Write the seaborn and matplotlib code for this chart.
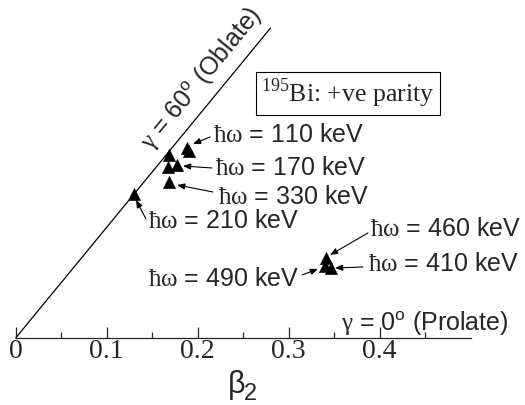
import numpy as np
import pandas as pd
import matplotlib
matplotlib.use("Agg")
import matplotlib.pyplot as plt
import seaborn as sns

sns.set_style("white")
plt.rcParams["font.family"] = ["Liberation Sans", "DejaVu Sans"]
plt.rcParams["mathtext.fontset"] = "custom"
plt.rcParams["mathtext.rm"] = "Liberation Sans"
plt.rcParams["mathtext.it"] = "Liberation Sans:italic"
plt.rcParams["mathtext.sf"] = "Liberation Sans"
# serif face for Greek symbols and the isotope mass number
plt.rcParams["mathtext.cal"] = "Liberation Serif"

# Deformation (beta2, gamma in degrees) of the positive-parity configurations
labels = ["110 keV", "110 keV", "60 deg", "170 keV", "170 keV", "330 keV",
          "210 keV", "460 keV", "490 keV", "410 keV"]
beta2 = [0.352, 0.349, 0.332, 0.316, 0.324, 0.297, 0.260, 0.363, 0.358, 0.363]
gamma = [57.7, 56.9, 59.6, 58.0, 56.9, 55.4, 60.0, 20.1, 18.4, 17.5]

# Annotation texts: label, text anchor (x, y), arrow tail, arrow tip
ann_text = ["110", "170", "330", "210", "460", "410", "490"]
ann_pos = [(0.2168, 0.3177), (0.2190, 0.2660), (0.2223, 0.2207), (0.1454, 0.1831),
           (0.3893, 0.1706), (0.3871, 0.1158), (0.1454, 0.0923)]
arrow_tail = [(0.2137, 0.3146), (0.2157, 0.2660), (0.2168, 0.2285), (0.1432, 0.1862),
              (0.3871, 0.1643), (0.3816, 0.1111), (0.3146, 0.0986)]
arrow_tip = [(0.1948, 0.3036), (0.1838, 0.2692), (0.1773, 0.2394), (0.1322, 0.2160),
             (0.3454, 0.1299), (0.3509, 0.1095), (0.3322, 0.1080)]

xticks = [0, 0.1, 0.2, 0.3, 0.4]
xtick_labels = ["0", "0.1", "0.2", "0.3", "0.4"]
minor_ticks = [0.05, 0.15, 0.25, 0.35, 0.45]
beta_max_line = 0.56

g = np.radians(gamma)
df = pd.DataFrame({"x": np.array(beta2) * np.cos(g),
                   "y": np.array(beta2) * np.sin(g)})

fig = plt.figure(figsize=(5.25, 4.05), dpi=100)
ax = fig.add_axes([0, 0, 1, 1])
ax.set_xlim(-0.01725, 0.5597)
ax.set_ylim(-0.1049, 0.5289)
ax.patch.set_alpha(0)

# gamma = 60 deg (oblate) line
ax.plot([0, beta_max_line * np.cos(np.pi / 3)], [0, beta_max_line * np.sin(np.pi / 3)],
        color="black", lw=0.9)

sns.scatterplot(data=df, x="x", y="y", marker="^", s=80, color="black",
                edgecolor="black", linewidth=0.3, ax=ax, zorder=3, legend=False)

for t, p, a, b in zip(ann_text, ann_pos, arrow_tail, arrow_tip):
    ax.text(p[0], p[1], r"$\mathcal{ħω}$ = " + t + " keV", fontsize=18,
            ha="left", va="center")
    ax.annotate("", xy=b, xytext=a,
                arrowprops=dict(arrowstyle="-|>,head_length=0.45,head_width=0.18",
                                color="black", lw=0.8, shrinkA=0, shrinkB=0))

# axis
for s in ["top", "left", "right"]:
    ax.spines[s].set_visible(False)
ax.spines["bottom"].set_position(("data", 0))
ax.spines["bottom"].set_bounds(0, 0.5)
ax.spines["bottom"].set_linewidth(0.9)
ax.set_xticks(xticks)
ax.set_xticklabels(xtick_labels, fontfamily="Liberation Serif", fontsize=20)
ax.set_xticks(minor_ticks, minor=True)
ax.tick_params(axis="x", which="major", direction="in", length=8, width=0.9, pad=1,
               bottom=True)
ax.tick_params(axis="x", which="minor", direction="in", length=4, width=0.9, bottom=True)
ax.set_yticks([])
ax.set_xlabel("")
ax.set_ylabel("")

ax.text(0.243, -0.086, "β", fontsize=22, ha="center", va="baseline")
ax.text(0.258, -0.097, "2", fontsize=17, ha="center", va="baseline")

ax.text(0.3578, 0.011, r"$\mathcal{γ}$ = 0$^\mathrm{o}$ (Prolate)", fontsize=18,
        ha="left", va="baseline")

ax.text(0.2048, 0.4058, r"$\mathcal{γ}$ = 60$^\mathrm{o}$ (Oblate)", fontsize=18,
        ha="center", va="center", rotation=50.6, rotation_mode="anchor")

ax.text(0.2698, 0.3693, r"$^{\mathcal{195}}$Bi: +ve parity", fontsize=18.5,
        fontfamily="Liberation Serif",
        ha="left", va="baseline",
        bbox=dict(boxstyle="square,pad=0.2", fc="white", ec="black", lw=0.8))

fig.savefig("out.png", dpi=100)
